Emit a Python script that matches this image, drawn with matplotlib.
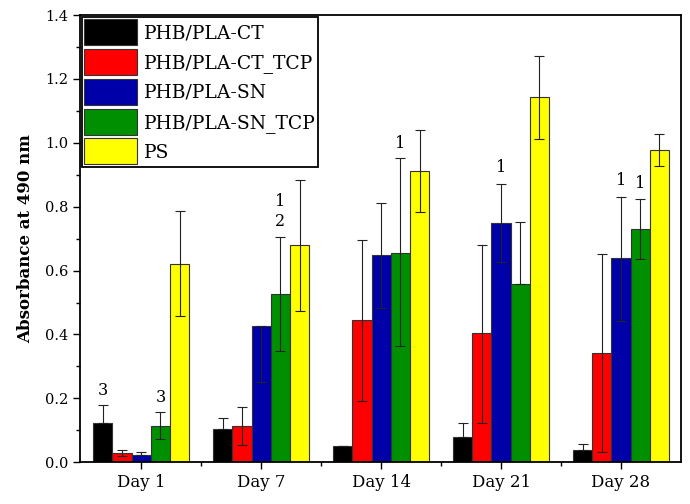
import numpy as np
import matplotlib.pyplot as plt
from matplotlib.ticker import MultipleLocator

plt.rcParams['font.family'] = ['DejaVu Serif']

days = ['Day 1', 'Day 7', 'Day 14', 'Day 21', 'Day 28']
samples = ['PHB/PLA-CT', 'PHB/PLA-CT_TCP', 'PHB/PLA-SN', 'PHB/PLA-SN_TCP', 'PS']

# mean absorbance per sample, one value per day
ct = [0.122, 0.104, 0.050, 0.078, 0.038]
ct_tcp = [0.028, 0.113, 0.444, 0.403, 0.342]
sn = [0.023, 0.426, 0.648, 0.750, 0.640]
sn_tcp = [0.113, 0.528, 0.655, 0.557, 0.729]
ps = [0.622, 0.679, 0.911, 1.143, 0.977]

# error bars (lower, upper)
ct_err = [[0.0, 0.0, 0.0, 0.0, 0.0], [0.057, 0.034, 0.0, 0.045, 0.018]]
ct_tcp_err = [[0.009, 0.059, 0.254, 0.281, 0.310], [0.010, 0.061, 0.253, 0.277, 0.309]]
sn_err = [[0.0, 0.174, 0.165, 0.123, 0.197], [0.008, 0.0, 0.164, 0.122, 0.190]]
sn_tcp_err = [[0.041, 0.180, 0.291, 0.0, 0.092], [0.044, 0.177, 0.297, 0.195, 0.096]]
ps_err = [[0.164, 0.206, 0.128, 0.131, 0.048], [0.166, 0.206, 0.129, 0.130, 0.051]]

# significance marks: (day index, bar index, label, y)
marks = [(0, 0, '3', 0.226), (0, 3, '3', 0.203),
         (1, 3, '1', 0.815), (1, 3, '2', 0.755),
         (2, 3, '1', 0.998), (3, 2, '1', 0.924),
         (4, 2, '1', 0.883), (4, 3, '1', 0.872)]

colors = ['#000000', '#ff0000', '#0000a8', '#008f00', '#ffff00']
values = [ct, ct_tcp, sn, sn_tcp, ps]
errors = [ct_err, ct_tcp_err, sn_err, sn_tcp_err, ps_err]

fig = plt.figure(figsize=(6.9, 5.04), dpi=100)
ax = fig.add_axes([0.116, 0.083, 0.871, 0.887])

x = np.arange(1, len(days) + 1)
w = 0.16
for i, (vals, err, col, lab) in enumerate(zip(values, errors, colors, samples)):
    pos = x + (i - 2) * w
    ax.bar(pos, vals, width=w, color=col, edgecolor='#333333', linewidth=0.8, label=lab, zorder=2)
    ax.errorbar(pos, vals, yerr=np.array(err), fmt='none', ecolor='#222222',
                elinewidth=0.8, capsize=3.5, capthick=0.8, zorder=3)

for d, b, txt, yv in marks:
    ax.text(x[d] + (b - 2) * w, yv, txt, ha='center', va='center', fontsize=11.5)

ax.set_xlim(0.49, 5.5)
ax.set_ylim(0, 1.4)
ax.set_xticks(x)
ax.set_xticklabels(days, fontsize=12)
ax.set_xticks(x[:-1] + 0.5, minor=True)
ax.yaxis.set_major_locator(MultipleLocator(0.2))
ax.yaxis.set_minor_locator(MultipleLocator(0.1))
ax.yaxis.set_major_formatter(plt.FormatStrFormatter('%.1f'))
ax.tick_params(axis='y', labelsize=10.5)
ax.tick_params(which='major', direction='out', length=5, width=1)
ax.tick_params(which='minor', direction='out', length=3, width=1)
ax.tick_params(top=False, right=False)
for s in ax.spines.values():
    s.set_linewidth(1.3)
ax.set_ylabel('Absorbance at 490 nm', fontsize=12, fontweight='bold', labelpad=8)

leg = ax.legend(loc='upper left', fontsize=13.5, frameon=True, fancybox=False,
                framealpha=1, edgecolor='black', handlelength=2.8, handleheight=1.76,
                labelspacing=0.2, handletextpad=0.4, borderpad=0.12, borderaxespad=0.1)
leg.get_frame().set_linewidth(1.3)

fig.savefig('out.png', dpi=100)
